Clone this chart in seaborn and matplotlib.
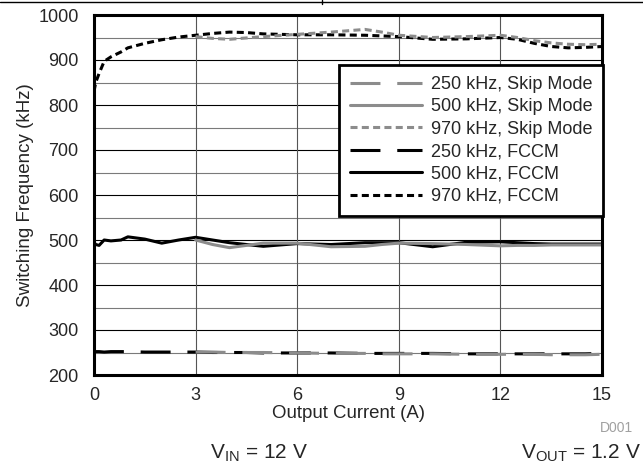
import numpy as np
import pandas as pd
import matplotlib
matplotlib.use("Agg")
import matplotlib.pyplot as plt
from matplotlib.lines import Line2D
import seaborn as sns

# Output current (A) for the FCCM curves (start at no load)
i_fccm = [0, 0.05, 0.15, 0.3, 0.5, 0.8, 1.0, 1.5, 2.0, 2.5, 3.0, 3.5, 4.0, 4.5, 5.0,
          6.0, 7.0, 8.0, 9.0, 10.0, 11.0, 12.0, 12.5, 13.0, 13.5, 14.0, 14.5, 15.0]
# Skip mode curves start at 3 A
i_skip = [3.0, 3.5, 4.0, 4.5, 5.0, 6.0, 7.0, 8.0, 8.5, 9.0, 10.0, 11.0, 12.0,
          12.5, 13.0, 13.5, 14.0, 14.5, 15.0]

f970_fccm = [830, 850, 870, 897, 907, 918, 927, 937, 945, 951, 955, 959, 962, 961, 958,
             956, 956, 955, 952, 946, 947, 950, 946, 937, 930, 927, 928, 930]
f500_fccm = [495, 490, 488, 500, 498, 500, 507, 502, 493, 500, 506, 500, 494, 490, 486,
             492, 490, 494, 494, 485, 495, 496, 494, 492, 491, 491, 491, 491]
f250_fccm = [251, 252, 252, 251, 252, 252, 252, 251, 251, 251, 251, 250, 250, 250, 249,
             249, 249, 248, 248, 248, 247, 247, 247, 247, 247, 247, 247, 248]

f970_skip = [952, 948, 946, 949, 952, 957, 962, 968, 962, 955, 950, 952, 955,
             950, 943, 938, 935, 934, 935]
f500_skip = [500, 490, 483, 488, 493, 493, 485, 486, 490, 493, 492, 490, 487,
             488, 488, 489, 489, 489, 489]
f250_skip = [251, 251, 250, 250, 250, 249, 248, 248, 247, 247, 247, 246, 246,
             246, 246, 245, 245, 245, 246]

labels = ["250 kHz, Skip Mode", "500 kHz, Skip Mode", "970 kHz, Skip Mode",
          "250 kHz, FCCM", "500 kHz, FCCM", "970 kHz, FCCM"]

x_ticks = [0, 3, 6, 9, 12, 15]
y_ticks = [200, 300, 400, 500, 600, 700, 800, 900, 1000]

sns.set_style("white")
plt.rcParams["font.family"] = ["Liberation Sans", "DejaVu Sans"]

gray = "#8c8c8c"
lw = 2.2
long_dash = (0, (9.8, 5.5))
dots = (0, (2.3, 1.4))

series = [
    (i_skip, f250_skip, gray, long_dash),
    (i_skip, f500_skip, gray, "-"),
    (i_skip, f970_skip, gray, dots),
    (i_fccm, f250_fccm, "black", long_dash),
    (i_fccm, f500_fccm, "black", "-"),
    (i_fccm, f970_fccm, "black", dots),
]

fig = plt.figure(figsize=(6.43, 4.66), dpi=100)
ax = fig.add_axes([94 / 643, 1 - 375 / 466, 508 / 643, 360 / 466])

# grid first
for v in range(250, 1000, 50):
    ax.axhline(v, color="black" if v % 100 == 0 else "#7a7a7a", lw=0.8, zorder=1)
for v in x_ticks[1:-1]:
    ax.axvline(v, color="#555555", lw=0.8, zorder=1)

# FCCM drawn first, skip mode on top
order = [3, 4, 5, 0, 1, 2]
for k in order:
    xs, ys, col, ls = series[k]
    df = pd.DataFrame({"I": xs, "F": ys})
    sns.lineplot(data=df, x="I", y="F", ax=ax, color=col, lw=lw,
                 linestyle=ls, zorder=3, estimator=None, sort=False)

ax.set_xlim(0, 15)
ax.set_ylim(200, 1000)
ax.set_xticks(x_ticks)
ax.set_yticks(y_ticks)
ax.tick_params(axis="y", labelsize=13, length=0, pad=11)
ax.tick_params(axis="x", labelsize=13, length=0, pad=9)
for s in ax.spines.values():
    s.set_linewidth(2.2)
    s.set_color("black")
    s.set_zorder(5)
ax.set_xlabel("Output Current (A)", fontsize=13.4, labelpad=0)
ax.set_ylabel("Switching Frequency (kHz)", fontsize=13.5, labelpad=3)

handles = [Line2D([], [], color=c, lw=lw, linestyle=ls) for _, _, c, ls in series]
leg = ax.legend(handles, labels, loc="upper right", bbox_to_anchor=(1.002, 0.861),
                fontsize=13, frameon=True, fancybox=False, framealpha=1,
                handlelength=4.0, handletextpad=0.45, labelspacing=0.3,
                borderpad=0.6, borderaxespad=0)
leg.get_frame().set_edgecolor("black")
leg.get_frame().set_linewidth(2.0)
leg.set_zorder(6)

fig.text(616 / 643, 1 - 428 / 466, "D001", color="#a0a0a0", fontsize=10,
         ha="center", va="center")
fig.text(259 / 643, 1 - 453 / 466, r"V$_{\mathregular{IN}}$ = 12 V", fontsize=15,
         ha="center", va="center")
fig.text(641 / 643, 1 - 453 / 466, r"V$_{\mathregular{OUT}}$ = 1.2 V", fontsize=15,
         ha="right", va="center")

# thin rule at top of the page
fig.add_artist(Line2D([0, 1], [1 - 1.5 / 466] * 2, color="black", lw=1.0,
                      transform=fig.transFigure))
fig.add_artist(Line2D([322 / 643] * 2, [1, 1 - 4 / 466], color="black", lw=1.0,
                      transform=fig.transFigure))

fig.savefig("out.png", dpi=100)
plt.close(fig)
